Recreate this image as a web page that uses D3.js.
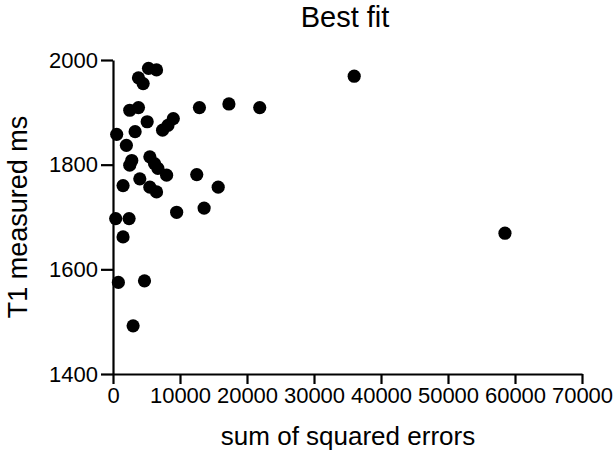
<!DOCTYPE html>
<html>
<head>
<meta charset="utf-8">
<script src="https://cdn.jsdelivr.net/npm/d3@7"></script>
<style>
  html, body { margin: 0; padding: 0; background: #fff; }
  svg { display: block; font-family: "Liberation Sans", Arial, sans-serif; }
</style>
</head>
<body>
<svg id="chart" width="616" height="455"></svg>
<script>
// Sum of squared errors of each fit against the measured T1 (ms)
const sse = [
  36000, 58500, 12900, 17300, 21900, 12500, 15700, 13600, 9500,
  5300, 6500, 3800, 4500, 2500, 3800, 5100, 9000, 8200, 7400,
  3300, 550, 2000, 2800, 2500, 5500, 6200, 6700, 8000, 1500,
  4000, 5500, 6500, 400, 2400, 1500, 800, 4700, 3000
];
const t1Measured = [
  1969, 1669, 1909, 1916, 1909, 1781, 1757, 1717, 1709,
  1984, 1981, 1966, 1955, 1904, 1909, 1882, 1888, 1875, 1866,
  1863, 1858, 1837, 1808, 1799, 1815, 1802, 1793, 1780, 1760,
  1773, 1757, 1748, 1697, 1697, 1662, 1575, 1578, 1492
];
const xTicks = [0, 10000, 20000, 30000, 40000, 50000, 60000, 70000];
const yTicks = [1400, 1600, 1800, 2000];

const titleText = "Best fit";
const xTitle = "sum of squared errors";
const yTitle = "T1 measured ms";

const svg = d3.select("#chart");

const x = d3.scaleLinear().domain([0, 70000]).range([113, 582]);
const y = d3.scaleLinear().domain([1400, 2000]).range([374, 60]);

// Axes
const xAxis = svg.append("g")
  .attr("transform", `translate(0,${y(1400)})`)
  .call(d3.axisBottom(x).tickValues(xTicks).tickFormat(d3.format("d"))
    .tickSize(10).tickSizeOuter(0).tickPadding(3));

const yAxis = svg.append("g")
  .attr("transform", `translate(${x(0)},0)`)
  .call(d3.axisLeft(y).tickValues(yTicks).tickFormat(d3.format("d"))
    .tickSize(12).tickSizeOuter(0).tickPadding(3));

[xAxis, yAxis].forEach(g => {
  g.select(".domain").attr("stroke", "#000").attr("stroke-width", 2.2);
  g.selectAll(".tick line").attr("stroke", "#000").attr("stroke-width", 2.2);
  g.selectAll(".tick text")
    .attr("fill", "#000")
    .style("font-size", "22px")
    .style("font-family", "\"Liberation Sans\", Arial, sans-serif");
});

// Points
svg.append("g")
  .selectAll("circle")
  .data(sse.map((v, i) => ({ sse: v, t1: t1Measured[i] })))
  .join("circle")
  .attr("cx", d => x(d.sse))
  .attr("cy", d => y(d.t1))
  .attr("r", 6.6)
  .attr("fill", "#000");

// Titles
svg.append("text")
  .attr("x", 345)
  .attr("y", 27)
  .attr("text-anchor", "middle")
  .style("font-size", "29px")
  .text(titleText);

svg.append("text")
  .attr("x", 348)
  .attr("y", 445)
  .attr("text-anchor", "middle")
  .style("font-size", "26px")
  .text(xTitle);

svg.append("text")
  .attr("transform", `translate(27,${(y(1400) + y(2000)) / 2}) rotate(-90)`)
  .attr("text-anchor", "middle")
  .style("font-size", "27px")
  .text(yTitle);
</script>
</body>
</html>
